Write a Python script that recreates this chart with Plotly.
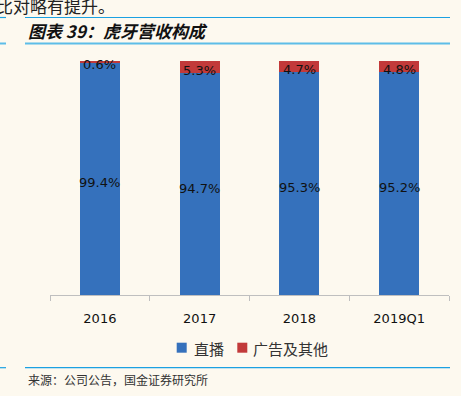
import plotly.graph_objects as go

W, H = 461, 396
categories = ["2016", "2017", "2018", "2019Q1"]
live = [99.4, 94.7, 95.3, 95.2]
ads = [0.6, 5.3, 4.7, 4.8]
series_names = ["直播", "广告及其他"]

BLUE = "#3571BC"
RED = "#C23A3A"
BG = "#FDF9EF"
LINE = "#1BA1E2"

def px_x(p):
    return p / W

def px_y(p):
    return 1 - p / H

fig = go.Figure()
fig.add_trace(go.Bar(x=categories, y=live, name=series_names[0], marker=dict(color=BLUE, line=dict(width=0)),
                     width=0.4, showlegend=False))
fig.add_trace(go.Bar(x=categories, y=ads, name=series_names[1], marker=dict(color=RED, line=dict(width=0)),
                     width=0.4, showlegend=False))

lab_font = dict(family="DejaVu Sans", size=13, color="#111111")
annotations = []
for i, v in enumerate(live):
    annotations.append(dict(x=i, y=v / 2, xref="x", yref="y", text=f"{v:.1f}%", showarrow=False,
                            font=lab_font, yshift=-4))
for i, (a, b) in enumerate(zip(live, ads)):
    annotations.append(dict(x=i, y=a + b / 2, xref="x", yref="y", text=f"{b:.1f}%", showarrow=False,
                            font=lab_font, yshift=-3))

shapes = []
def hline(x0, x1, y, color, width):
    shapes.append(dict(type="line", xref="paper", yref="paper",
                       x0=px_x(x0), x1=px_x(x1), y0=px_y(y), y1=px_y(y),
                       line=dict(color=color, width=width)))

hline(0, 6, 17.5, LINE, 1.2)
hline(25, 450, 17.5, LINE, 1.2)
hline(0, 6, 43.5, "#5DBDE8", 2)
hline(25, 450, 43.5, "#5DBDE8", 2)
hline(0, 6, 367.7, LINE, 1.2)
hline(25, 450, 367.7, LINE, 1.2)

# legend (drawn manually to match spacing)
leg_items = [(series_names[0], BLUE, 176.7, 192), (series_names[1], RED, 237.3, 251)]
for name, col, sx, tx in leg_items:
    shapes.append(dict(type="rect", xref="paper", yref="paper",
                       x0=px_x(sx), x1=px_x(sx + 10), y0=px_y(352.7), y1=px_y(342.7),
                       fillcolor=col, line=dict(width=0)))
    annotations.append(dict(text=name, x=px_x(tx), y=px_y(348), xref="paper", yref="paper",
                            xanchor="left", yanchor="middle", showarrow=False,
                            font=dict(family="Noto Sans CJK SC", size=15, color="#333333")))

annotations += [
    dict(text="比对略有提升。", x=px_x(117), y=px_y(5), xref="paper", yref="paper",
         xanchor="right", yanchor="middle", showarrow=False,
         font=dict(family="Noto Sans CJK SC", size=17, color="#222222")),
    dict(text="图表 39：虎牙营收构成", x=px_x(26), y=px_y(30), xref="paper", yref="paper",
         xanchor="left", yanchor="middle", showarrow=False,
         font=dict(family="Noto Sans CJK SC", size=17, color="#111111", weight="bold", style="italic")),
    dict(text="来源：公司公告，国金证券研究所", x=px_x(26), y=px_y(379), xref="paper", yref="paper",
         xanchor="left", yanchor="middle", showarrow=False,
         font=dict(family="Noto Sans CJK SC", size=12, color="#333333")),
]

fig.update_layout(
    width=W, height=H,
    margin=dict(l=0, r=0, t=0, b=0),
    paper_bgcolor=BG, plot_bgcolor=BG,
    barmode="stack",
    showlegend=False,
    shapes=shapes,
    annotations=annotations,
    xaxis=dict(domain=[px_x(50), px_x(449)], type="category", range=[-0.5, 3.5],
               showline=True, linecolor="#BFBFBF", linewidth=1,
               ticks="outside", tickson="boundaries", ticklen=5, tickcolor="#BFBFBF",
               tickfont=dict(family="DejaVu Sans", size=13, color="#111111"),
               ticklabelstandoff=11, showgrid=False, zeroline=False, fixedrange=True),
    yaxis=dict(domain=[1 - 295 / H, 1 - 61 / H], range=[0, 100], visible=False,
               showgrid=False, zeroline=False, fixedrange=True),
)

fig.write_html("out.html", config={"displayModeBar": False},
               post_script="document.body.style.margin='0';document.body.style.background='" + BG + "';")
